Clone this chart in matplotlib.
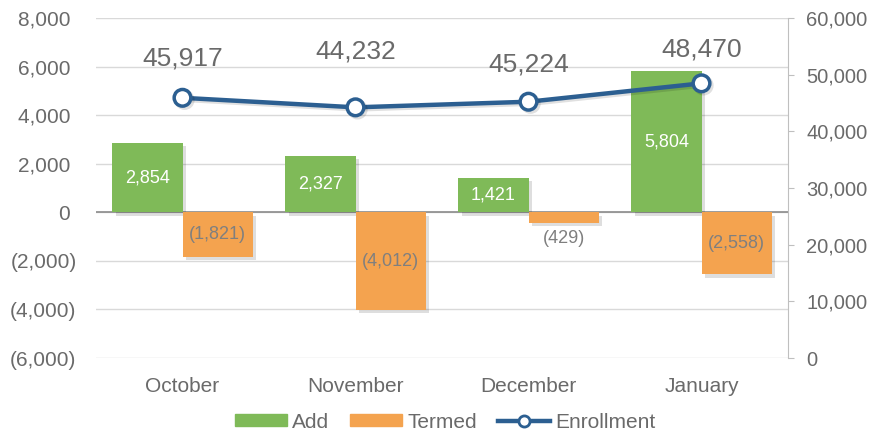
import matplotlib
matplotlib.use("Agg")
import matplotlib.pyplot as plt
import matplotlib.patheffects as pe
from matplotlib.lines import Line2D
from matplotlib.patches import Patch
import numpy as np

plt.rcParams["font.family"] = ["Liberation Sans", "DejaVu Sans"]

months = ["October", "November", "December", "January"]
add = [2854, 2327, 1421, 5804]
termed = [-1821, -4012, -429, -2558]
enrollment = [45917, 44232, 45224, 48470]
left_ticks = [-6000, -4000, -2000, 0, 2000, 4000, 6000, 8000]
right_ticks = [0, 10000, 20000, 30000, 40000, 50000, 60000]
enroll_label_offsets = [39, 56, 37, 34]  # pixels above the point

GREEN = "#7FBA58"
ORANGE = "#F4A34F"
BLUE = "#2C5F91"
GREY = "#6A6A6A"

def fmt(v):
    return f"({abs(v):,})" if v < 0 else f"{v:,}"

fig = plt.figure(figsize=(8.72, 4.36), dpi=100)
ax = fig.add_axes([96/872, 1-358/436, 692/872, 340/436])
x = np.arange(len(months))
w = 0.405

shadow = [pe.SimplePatchShadow(offset=(2.5, -2.5), shadow_rgbFace="#000000", alpha=0.13), pe.Normal()]
b1 = ax.bar(x - w/2, add, w, color=GREEN, zorder=3, path_effects=shadow)
b2 = ax.bar(x + w/2, termed, w, color=ORANGE, zorder=3, path_effects=shadow)

ax.set_xlim(-0.5, 3.5)
ax.set_ylim(-6000, 8000)
ax.set_yticks(left_ticks)
ax.set_yticklabels([fmt(v) if v < 0 else f"{v:,} " for v in left_ticks])
ax.set_xticks(x)
ax.set_xticklabels(months)
ax.tick_params(axis="both", length=0, labelsize=15, colors=GREY)
ax.tick_params(axis="y", pad=14)
ax.tick_params(axis="x", pad=13.5)
for s in ax.spines.values():
    s.set_visible(False)
ax.grid(axis="y", color="#D9D9D9", lw=1, zorder=0)
ax.axhline(0, color="#8C8C8C", lw=1.2, zorder=2)

for i, v in enumerate(add):
    ax.text(x[i] - w/2, v/2, fmt(v), ha="center", va="center", color="white", fontsize=13, zorder=5)
for i, v in enumerate(termed):
    if abs(v) > 1000:
        ax.text(x[i] + w/2, v/2, fmt(v), ha="center", va="center", color="#7F7F7F", fontsize=13, zorder=5)
    else:
        ax.annotate(fmt(v), (x[i] + w/2, v), xytext=(0, -16), textcoords="offset pixels",
                    ha="center", va="center", color="#7F7F7F", fontsize=13, zorder=5)

ax2 = ax.twinx()
ax2.set_ylim(0, 60000)
ax2.set_yticks(right_ticks)
ax2.set_yticklabels([f"{v:,}" for v in right_ticks])
ax2.tick_params(axis="y", length=4, labelsize=14.5, colors=GREY, pad=9, color="#BFBFBF")
for s in ax2.spines.values():
    s.set_visible(False)
ax2.spines["right"].set_visible(True)
ax2.spines["right"].set_color("#BFBFBF")
ax2.plot(x, enrollment, color=BLUE, lw=3.2, marker="o", ms=12, mfc="white", mec=BLUE, mew=2.5,
         zorder=6, solid_capstyle="round",
         path_effects=[pe.SimpleLineShadow(offset=(1.5, -1.5), alpha=0.12), pe.Normal()])
for i, v in enumerate(enrollment):
    ax2.annotate(f"{v:,}", (x[i], v), xytext=(0, enroll_label_offsets[i]), textcoords="offset pixels",
                 ha="center", va="center", color=GREY, fontsize=19, zorder=7)

handles = [Patch(color=GREEN, label="Add"), Patch(color=ORANGE, label="Termed"),
           Line2D([0], [0], color=BLUE, lw=3.2, marker="o", ms=8, mfc="white", mec=BLUE, mew=2, label="Enrollment")]
fig.legend(handles=handles, loc="center", bbox_to_anchor=(445/872, 1-422/436), ncol=3, frameon=False,
           fontsize=15, labelcolor=GREY, handlelength=2.5, handleheight=0.55, columnspacing=1.0,
           handletextpad=0.25, borderpad=0.2)

fig.savefig("out.png", dpi=100)
